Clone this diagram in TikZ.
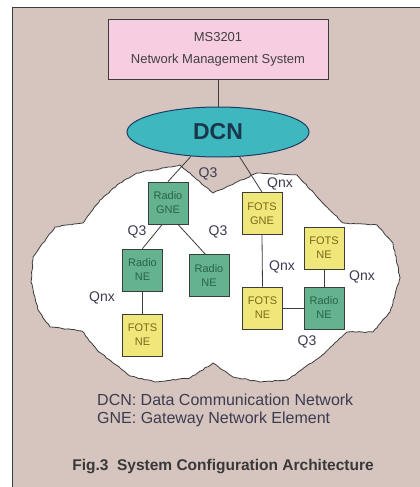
\documentclass[tikz,border=0pt]{standalone}
\usepackage{fontspec}
\setmainfont{Liberation Sans}
\usepackage{tikz}
\usetikzlibrary{shapes.geometric,decorations.pathmorphing}

\definecolor{bgpink}{RGB}{214,196,190}
\definecolor{nmspink}{RGB}{247,205,226}
\definecolor{dcnteal}{RGB}{62,184,190}
\definecolor{dcnline}{RGB}{30,60,100}
\definecolor{dcntext}{RGB}{25,55,75}
\definecolor{radiogreen}{RGB}{100,178,142}
\definecolor{radiotext}{RGB}{40,100,70}
\definecolor{fotsyellow}{RGB}{240,231,122}
\definecolor{fotstext}{RGB}{120,105,25}
\definecolor{labeltext}{RGB}{60,60,80}
\definecolor{darkline}{RGB}{60,60,60}

\tikzset{
	nebox/.style={draw=darkline, line width=0.9pt, minimum width=40pt, minimum height=42pt, inner sep=0pt, align=center, font=\fontsize{11}{14}\selectfont},
	radiobox/.style={nebox, fill=radiogreen, text=radiotext},
	fotsbox/.style={nebox, fill=fotsyellow, text=fotstext},
	link/.style={draw=darkline, line width=0.8pt},
	iflabel/.style={text=labeltext, font=\fontsize{14}{16}\selectfont, inner sep=0pt},
	legendtext/.style={anchor=west, inner sep=0pt, text=labeltext, font=\fontsize{16}{19}\selectfont}
}

\begin{document}
\begin{tikzpicture}[x=1pt, y=-1pt]
	\useasboundingbox (0,0) rectangle (420,487);
	\fill[white] (0,0) rectangle (420,487);
	\fill[bgpink] (12,7) rectangle (420,487);
	\draw[darkline, line width=0.8pt] (12,487) -- (12,7) -- (420,7);

	\pgfmathsetseed{7}
	\draw[fill=white, draw=darkline, line width=0.8pt, decorate, decoration={random steps, segment length=3pt, amplitude=0.5pt}]
		(213,193) -- (180,165) -- (137,173) -- (120,183) -- (100,200) -- (83,223) -- (55,227) -- (33,257)
		-- (31,282) -- (38,310) -- (50,327) -- (82,331) -- (97,350) -- (130,376) -- (155,382) -- (190,378)
		-- (213,363) -- (233,377) -- (260,382) -- (287,380) -- (320,357) -- (347,332) -- (373,332) -- (390,312)
		-- (400,278) -- (393,243) -- (377,225) -- (343,223) -- (320,200) -- (297,175) -- (257,173) -- cycle;

	\node[draw=darkline, line width=0.9pt, fill=nmspink, minimum width=220pt, minimum height=60pt, align=center, text=black!75, font=\fontsize{13}{22}\selectfont]
		(nms) at (218,49) {MS3201\\Network Management System};
	\node[ellipse, draw=dcnline, line width=1pt, fill=dcnteal, minimum width=182pt, minimum height=50pt, inner sep=0pt, text=dcntext]
		(dcn) at (218,132) {\fontsize{23}{26}\selectfont\bfseries DCN};

	\node[radiobox] (rgne) at (168,203) {Radio\\GNE};
	\node[fotsbox] (fgne) at (262,213.5) {FOTS\\GNE};
	\node[radiobox] (rnea) at (142.5,270) {Radio\\NE};
	\node[radiobox] (rneb) at (209,275.5) {Radio\\NE};
	\node[fotsbox] (fnea) at (142.5,335) {FOTS\\NE};
	\node[fotsbox] (fneb) at (262.5,308) {FOTS\\NE};
	\node[radiobox] (rnec) at (324,308) {Radio\\NE};
	\node[fotsbox] (fnec) at (324,248) {FOTS\\NE};

	\draw[link] (nms.south) -- (dcn.north);
	\draw[link] (dcn.222) -- (rgne.north);
	\draw[link] (dcn.311) -- (fgne.north);
	\draw[link] (rgne.255) -- (rnea.north);
	\draw[link] (rgne.295) -- (rneb.100);
	\draw[link] (rnea.south) -- (fnea.north);
	\draw[link] (fgne.south) -- (fneb.north);
	\draw[link] (fneb.east) -- (rnec.west);
	\draw[link] (fnec.south) -- (rnec.north);

	\node[iflabel] (ltop) at (208,174) {Q3};
	\node[iflabel] (lqnxtop) at (280,184) {Qnx};
	\node[iflabel] (lqleft) at (137,232) {Q3};
	\node[iflabel] (lqright) at (218,232) {Q3};
	\node[iflabel] (lqnxleft) at (102,298) {Qnx};
	\node[iflabel] (lqnxmid) at (282,267) {Qnx};
	\node[iflabel] (lqnxright) at (362,277) {Qnx};
	\node[iflabel] (lqbottom) at (307,342) {Q3};

	\node[legendtext] (ldcn) at (97,400) {DCN: Data Communication Network};
	\node[legendtext] (lgne) at (97,419) {GNE: Gateway Network Element};
	\node[inner sep=0pt, text=black!78, font=\fontsize{15.5}{18}\selectfont\bfseries] (caption) at (223,467) {Fig.3\ \ System Configuration Architecture};
\end{tikzpicture}
\end{document}
